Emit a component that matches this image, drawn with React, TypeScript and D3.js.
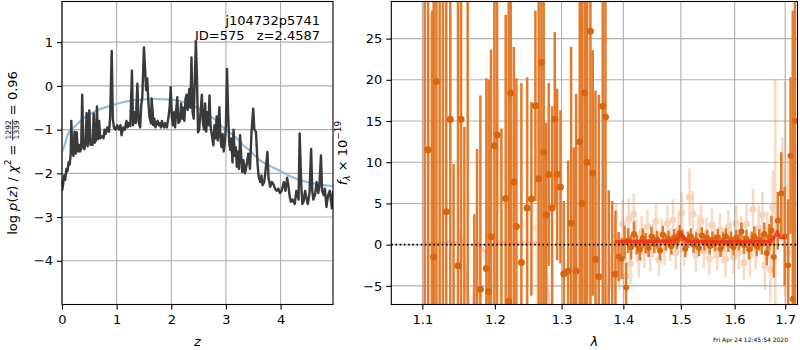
import React, { useRef, useEffect } from 'react';
import * as d3 from 'd3';

const FONT = 'DejaVu Sans, sans-serif';

// redshift grid and log p(z)
const pzZ = [0.00, 0.02, 0.04, 0.06, 0.08, 0.10, 0.12, 0.14, 0.16, 0.17, 0.19, 0.21, 0.23, 0.25, 0.27, 0.29, 0.31, 0.33, 0.35, 0.37,
  0.39, 0.41, 0.43, 0.45, 0.47, 0.50, 0.52, 0.54, 0.56, 0.58, 0.60, 0.62, 0.64, 0.66, 0.68, 0.70, 0.73, 0.76, 0.78, 0.80,
  0.83, 0.86, 0.88, 0.91, 0.93, 0.95, 0.98, 1.01, 1.04, 1.07, 1.09, 1.12, 1.15, 1.18, 1.20, 1.22, 1.25, 1.28, 1.30, 1.33,
  1.35, 1.38, 1.40, 1.43, 1.45, 1.47, 1.50, 1.52, 1.54, 1.56, 1.58, 1.60, 1.63, 1.64, 1.66, 1.67, 1.69, 1.71, 1.73, 1.75,
  1.77, 1.79, 1.81, 1.83, 1.85, 1.87, 1.89, 1.92, 1.95, 1.97, 1.99, 2.01, 2.03, 2.05, 2.07, 2.09, 2.11, 2.13, 2.16, 2.18,
  2.20, 2.22, 2.24, 2.26, 2.28, 2.30, 2.33, 2.35, 2.37, 2.39, 2.41, 2.43, 2.45, 2.47, 2.49, 2.51, 2.53, 2.56, 2.58, 2.60,
  2.62, 2.64, 2.66, 2.68, 2.70, 2.72, 2.74, 2.77, 2.79, 2.81, 2.83, 2.85, 2.88, 2.90, 2.92, 2.94, 2.96, 2.98, 3.00, 3.02,
  3.04, 3.06, 3.08, 3.10, 3.12, 3.14, 3.16, 3.18, 3.20, 3.22, 3.24, 3.26, 3.28, 3.30, 3.32, 3.35, 3.38, 3.41, 3.44, 3.47,
  3.50, 3.52, 3.55, 3.58, 3.60, 3.63, 3.65, 3.67, 3.70, 3.72, 3.76, 3.78, 3.81, 3.84, 3.87, 3.90, 3.93, 3.96, 3.99, 4.02,
  4.06, 4.09, 4.12, 4.14, 4.17, 4.19, 4.22, 4.26, 4.29, 4.33, 4.35, 4.38, 4.40, 4.42, 4.45, 4.47, 4.50, 4.53, 4.56, 4.58,
  4.60, 4.63, 4.66, 4.69, 4.71, 4.74, 4.76, 4.79, 4.81, 4.84, 4.87, 4.90, 4.92, 4.94, 4.96];
const pzLog = [-2.40, -2.25, -2.05, -2.15, -1.90, -1.95, -1.75, -1.80, -1.55, -0.80, -1.50, -1.60, -1.05, -1.55, -1.06, -1.50, -1.35, -1.50, -1.45, -0.20,
  -1.40, -1.45, -1.30, -0.62, -1.38, -0.56, -1.35, -1.30, -1.35, -0.63, -1.30, -1.25, -0.47, -1.22, -0.80, -1.20, -1.15, -1.20, -1.00, -1.10,
  -0.95, -1.05, -0.75, 0.80, -0.75, -0.95, -1.00, -0.90, -1.00, -0.90, -1.13, -0.95, -1.00, -0.80, -0.95, -0.85, -0.92, 0.35, -0.90, -0.60,
  -0.85, 0.05, -0.80, -0.95, -0.45, -0.25, 0.88, 0.40, -0.10, 0.17, -0.35, -0.70, -0.86, -0.29, -0.60, -0.90, -0.75, -0.95, -0.85, -0.80,
  -0.90, -0.85, -0.95, -0.80, -0.90, -0.95, -0.85, -0.95, -0.70, -0.50, -0.03, -0.70, -0.90, -0.60, -0.95, -0.55, -0.26, -0.85, -0.80, -0.40,
  -0.75, -0.50, -0.80, -0.30, -0.20, -0.55, -0.07, -0.50, 0.65, -0.60, -0.75, 0.10, 1.03, 0.20, -1.06, -1.00, -0.70, -0.20, -0.85, -1.00,
  -0.40, -1.05, -0.60, -0.90, -0.22, -0.95, -1.10, -1.36, -0.90, -1.20, -0.70, -1.25, -0.49, -1.20, -1.40, -1.10, -1.50, -1.30, -0.90, 0.39,
  -0.60, -1.30, -1.47, -1.20, -1.75, -1.00, -1.60, -1.40, -1.85, -1.50, -1.90, -1.13, -1.60, -1.97, -1.70, -2.00, -1.80, -1.55, -1.90, -1.02,
  -0.52, -1.00, -1.05, -1.80, -2.08, -2.20, -2.05, -2.27, -2.20, -2.00, -1.51, -2.10, -2.31, -2.20, -2.25, -2.35, -2.40, -2.35, -2.45, -2.40,
  -2.20, -2.40, -2.10, -2.25, -2.55, -2.65, -2.60, -2.70, -2.40, -2.60, -1.09, -2.30, -2.70, -2.65, -2.40, -2.55, -2.70, -2.45, -1.44, -2.40,
  -2.60, -2.50, -2.20, -2.45, -2.30, -1.59, -2.40, -2.50, -2.35, -2.77, -2.50, -2.40, -2.60, -2.80, -2.40];

// prior curve
const priorZ = [0, 0.02, 0.05, 0.1, 0.15, 0.2, 0.3, 0.4, 0.55, 0.7, 0.9, 1.1, 1.3, 1.5, 1.7, 1.9, 2.1, 2.3, 2.4, 2.5, 2.65, 2.8,
  2.9, 3.0, 3.2, 3.3, 3.45, 3.6, 3.8, 4.0, 4.2, 4.4, 4.6, 4.8, 4.96];
const priorLog = [-1.51, -1.45, -1.35, -1.13, -1.03, -0.97, -0.85, -0.74, -0.62, -0.53, -0.45, -0.38, -0.33, -0.31, -0.30, -0.31, -0.33, -0.40, -0.45, -0.52, -0.64, -0.77,
  -0.90, -1.00, -1.20, -1.34, -1.49, -1.68, -1.83, -1.95, -2.08, -2.17, -2.23, -2.27, -2.29];

const zTicks = [0, 1, 2, 3, 4];
const pzTicks = [-4, -3, -2, -1, 0, 1];
const waveTicks = [1.1, 1.2, 1.3, 1.4, 1.5, 1.6, 1.7];
const fluxTicks = [-5, 0, 5, 10, 15, 20, 25];

// G102 binned spectrum [wave, flux, err]
const g102 = [
  [1.1030, 35, 45], [1.1075, 11.5, 30], [1.1129, -12, 40.4], [1.1151, -1.5, 35], [1.1187, 19.8, 35], [1.1231, 40, 50],
  [1.1276, -15, 50], [1.1321, 4.0, 30], [1.1375, 15.2, 30], [1.1420, -10, 19.8], [1.1481, -2.55, 35], [1.1523, 15.2, 30],
  [1.1569, -9, 23.3], [1.1615, 30, 40], [1.1708, -11, 14.7], [1.1746, -9, 20.6], [1.1793, -5.4, 23.5], [1.1878, -2.9, 23.1],
  [1.1911, -5.7, 25.7], [1.1945, 0.97, 22.7], [1.1993, 12, 25], [1.2032, 13.3, 25], [1.2095, -9, 23.1], [1.2157, 5.6, 22.3],
  [1.2201, -6.9, 37], [1.2230, 18.4, 26], [1.2275, 7.6, 16.4], [1.2314, 2.2, 18], [1.2388, -2.15, 21.75], [1.2474, 4.45, 15.85],
  [1.2538, 5.55, 11.75], [1.2598, 16.85, 11.55], [1.2648, 8, 30], [1.2689, 22.1, 30], [1.2724, 11.2, 20], [1.2761, 3.6, 11.2],
  [1.2801, 8.5, 11.1], [1.2853, 4.45, 12.35], [1.2894, 15.2, 10.6], [1.2931, 8.5, 10.4], [1.2982, 7.0, 9.3], [1.3034, -3.55, 8.85],
  [1.3103, -3.2, 13.4], [1.3150, 2.6, 21.4], [1.3191, -9, 20.8], [1.3229, -3.2, 21.5], [1.3286, 12.5, 25], [1.3324, 5, 30],
  [1.3366, 18.4, 28], [1.3405, 10, 30], [1.3458, 25.9, 35], [1.3495, 8.7, 14.9], [1.3539, -1.8, 20.5], [1.3593, -3.9, 22.1],
  [1.3658, 16.8, 30], [1.3703, 15.5, 30], [1.3757, -9, 15.6], [1.3813, -9, 14.3], [1.3868, -3.6, 7.7],
];
const g102Faint = [
  [1.1100, 10, 18], [1.1780, -6.2, 6], [1.1880, -1.5, 6], [1.2050, 11.7, 8], [1.2250, 6.8, 7], [1.2620, 2, 14],
  [1.3300, 11.5, 16], [1.3570, -2, 10], [1.3680, 25, 15],
];

// G141 binned spectrum [wave, flux, err]
const g141 = [
  [1.392, -1.45, 3], [1.397, -1.7, 2.5], [1.402, 0.3, 2], [1.4046, -5.2, 3], [1.408, 0.5, 1.5], [1.413, -0.3, 1.5],
  [1.418, 1.3, 1.5], [1.423, 0.0, 1.2], [1.428, -0.6, 1.3], [1.433, 0.8, 1.2], [1.438, 0.2, 1.2], [1.443, -0.4, 1.1],
  [1.448, 1.0, 1.2], [1.453, 0.1, 1.1], [1.458, 0.6, 1.1], [1.463, -0.7, 1.2], [1.468, 1.2, 1.1], [1.473, 0.3, 1.0],
  [1.478, 0.7, 1.0], [1.483, -0.2, 1.0], [1.488, 0.9, 1.0], [1.493, 0.4, 1.0], [1.498, 1.4, 1.0], [1.503, 0.8, 1.0],
  [1.508, -0.5, 1.0], [1.513, 0.6, 1.0], [1.518, 1.0, 1.0], [1.523, 0.0, 1.0], [1.528, 0.5, 1.0], [1.533, -0.4, 1.0],
  [1.538, 1.1, 1.0], [1.543, 0.3, 1.0], [1.548, 0.8, 1.0], [1.553, -0.2, 1.0], [1.558, 0.6, 1.0], [1.563, 0.2, 1.0],
  [1.568, 0.9, 1.0], [1.573, -0.5, 1.0], [1.578, 0.5, 1.0], [1.583, 1.0, 1.0], [1.588, 0.1, 1.0], [1.593, 0.6, 1.0],
  [1.598, -0.3, 1.0], [1.603, 0.8, 1.0], [1.608, 0.3, 1.0], [1.613, 1.6, 1.1], [1.618, 0.0, 1.1], [1.623, 0.7, 1.1],
  [1.628, -0.6, 1.2], [1.633, 0.4, 1.2], [1.638, 1.0, 1.2], [1.643, -0.2, 1.2], [1.648, 0.6, 1.3], [1.653, 0.1, 1.3],
  [1.658, 1.3, 1.4], [1.663, -1.0, 1.5], [1.668, 0.9, 1.6], [1.672, 1.7, 1.8], [1.677, -1.5, 2.5], [1.685, 2.9, 3.5],
  [1.692, 6.2, 5], [1.699, 1.0, 6], [1.706, -2.5, 8], [1.711, 10.8, 9.5], [1.7155, -6.6, 35], [1.720, 15, 30],
];
const g141Faint = [
  [1.388, 1.0, 4.0], [1.393, -2.0, 3.5], [1.399, 2.5, 3.0], [1.404, -3.8, 3.0], [1.409, 3.1, 2.5], [1.412, -2.3, 2.5],
  [1.4176, 3.7, 2.5], [1.4215, 0.8, 2.2], [1.4262, -1.75, 2.2], [1.431, 1.5, 2.0], [1.436, -0.8, 2.0], [1.441, 2.2, 2.0],
  [1.446, -1.2, 2.0], [1.451, 0.5, 2.0], [1.456, 2.8, 2.2], [1.461, -1.8, 2.0], [1.466, 1.2, 2.0], [1.471, -0.5, 2.0],
  [1.476, 2.6, 2.2], [1.481, 0.0, 2.0], [1.486, 3.0, 2.5], [1.491, -1.0, 2.0], [1.496, 1.8, 2.2], [1.5014, 3.85, 2.5],
  [1.506, -0.6, 2.0], [1.5157, 5.75, 3.5], [1.5218, 3.7, 2.8], [1.527, -1.3, 2.0], [1.532, 1.6, 2.0], [1.537, 2.8, 2.2],
  [1.542, -0.8, 2.0], [1.547, 1.3, 2.0], [1.552, -1.7, 2.0], [1.557, 2.4, 2.0], [1.562, 0.3, 2.0], [1.567, -1.2, 2.0],
  [1.572, 1.8, 2.0], [1.577, -0.3, 2.0], [1.5827, -1.75, 2.2], [1.588, 2.2, 2.0], [1.593, 0.8, 2.0], [1.598, -1.5, 2.0],
  [1.603, 2.6, 2.2], [1.608, -1.0, 2.0], [1.6125, 1.5, 2.0], [1.6179, -2.15, 2.2], [1.623, 2.5, 2.5], [1.6295, -1.3, 2.5],
  [1.6356, 4.3, 2.5], [1.641, -0.5, 2.5], [1.647, 2.0, 2.8], [1.6542, 3.6, 2.8], [1.659, -2.5, 3.0], [1.664, 1.0, 3.0],
  [1.670, -3.0, 4.0], [1.675, 4.5, 4.5], [1.680, 2.0, 18], [1.6943, 6.6, 6.4], [1.700, 6.8, 13], [1.706, -1.0, 12],
];

// best-fit model
const model102 = [[1.10, 0.2], [1.148, 0.3], [1.1513, 1.7], [1.158, -3], [1.165, -9], [1.168, -9], [1.1745, 0.3],
  [1.1885, -1.1], [1.1955, -0.3], [1.203, 0.3], [1.272, 0.3], [1.283, -9], [1.372, -9], [1.381, -1], [1.386, 0.35]];
const model141 = [[1.386, 0.35], [1.45, 0.4], [1.488, 0.45], [1.494, 0.7], [1.500, 1.35], [1.506, 0.8], [1.512, 0.4],
  [1.56, 0.35], [1.62, 0.35], [1.67, 0.4], [1.676, 0.8], [1.684, 1.5], [1.690, 0.9], [1.700, 0.85]];

type Piece = { t?: string; italic?: boolean; size?: number; dy?: number; frac?: [string, string] };

const NB = '\u00a0';

const addLabel = (svg: any, x: number, y: number, pieces: Piece[]) => {
  const g = svg.append('g').attr('transform', `translate(${x},${y}) rotate(-90)`);
  const inner = g.append('g').attr('font-family', FONT).attr('fill', '#000');
  let cur = 0;
  pieces.forEach(p => {
    if (p.frac) {
      const fs = p.size || 7.5;
      const a = inner.append('text').attr('x', cur + 1).attr('y', -6.2).attr('font-size', fs).text(p.frac[0]);
      const b = inner.append('text').attr('x', cur + 1).attr('y', 1.8).attr('font-size', fs).text(p.frac[1]);
      const w = Math.max(a.node().getComputedTextLength(), b.node().getComputedTextLength()) + 2;
      inner.append('line').attr('x1', cur).attr('x2', cur + w).attr('y1', -4.4).attr('y2', -4.4)
        .attr('stroke', '#000').attr('stroke-width', 0.8);
      cur += w;
    } else {
      const t = inner.append('text').attr('x', cur).attr('y', p.dy || 0)
        .attr('font-size', p.size || 13).attr('font-style', p.italic ? 'italic' : 'normal')
        .text((p.t || '').replace(/ /g, NB));
      cur += t.node().getComputedTextLength();
    }
  });
  inner.attr('transform', `translate(${-cur / 2},0)`);
};

const createChart = (svg: d3.Selection<SVGSVGElement, unknown, null, undefined>): void => {
  svg.selectAll('*').remove();
  svg.append('rect').attr('width', 800).attr('height', 350).attr('fill', '#fff');

  const L = { x0: 62, x1: 333, y0: 1.5, y1: 304.5 };
  const R = { x0: 391.3, x1: 797.5, y0: 1.5, y1: 304.5 };

  const xL = d3.scaleLinear().domain([0, 4.96]).range([L.x0, L.x1]);
  const yL = d3.scaleLinear().domain([-5.0, 1.93]).range([L.y1, L.y0]);
  const xR = d3.scaleLog().domain([1.0598, 1.7253]).range([R.x0, R.x1]);
  const yR = d3.scaleLinear().domain([-7.26, 29.5]).range([R.y1, R.y0]);

  const defs = svg.append('defs');
  defs.append('clipPath').attr('id', 'clipL').append('rect')
    .attr('x', L.x0).attr('y', L.y0).attr('width', L.x1 - L.x0).attr('height', L.y1 - L.y0);
  defs.append('clipPath').attr('id', 'clipR').append('rect')
    .attr('x', R.x0).attr('y', R.y0).attr('width', R.x1 - R.x0).attr('height', R.y1 - R.y0);

  const grid = '#b0b0b0';

  // ---- left panel: p(z)
  const gl = svg.append('g');
  gl.selectAll(null).data(zTicks).enter().append('line')
    .attr('x1', d => xL(d)).attr('x2', d => xL(d)).attr('y1', L.y0).attr('y2', L.y1)
    .attr('stroke', grid).attr('stroke-width', 1.1);
  gl.selectAll(null).data(pzTicks).enter().append('line')
    .attr('x1', L.x0).attr('x2', L.x1).attr('y1', d => yL(d)).attr('y2', d => yL(d))
    .attr('stroke', grid).attr('stroke-width', 1.1);

  const plotL = gl.append('g').attr('clip-path', 'url(#clipL)');
  const pline = d3.line<number>().x((_, i) => xL(priorZ[i])).y(d => yL(d)).curve(d3.curveMonotoneX);
  plotL.append('path').attr('d', pline(priorLog)).attr('fill', 'none')
    .attr('stroke', '#7fb3da').attr('stroke-width', 2.2).attr('opacity', 0.85);
  const line = d3.line<number>().x((_, i) => xL(pzZ[i])).y(d => yL(d));
  plotL.append('path').attr('d', line(pzLog)).attr('fill', 'none')
    .attr('stroke', '#3a3a3a').attr('stroke-width', 2.4).attr('stroke-linejoin', 'round');

  const axL = gl.append('g').attr('transform', `translate(0,${L.y1})`)
    .call(d3.axisBottom(xL).tickValues(zTicks).tickFormat(d3.format('d')).tickSize(5).tickPadding(5.5));
  const ayL = gl.append('g').attr('transform', `translate(${L.x0},0)`)
    .call(d3.axisLeft(yL).tickValues(pzTicks).tickFormat(d3.format('d')).tickSize(5).tickPadding(4));

  // ---- right panel: spectrum
  const gr = svg.append('g');
  gr.selectAll(null).data(waveTicks).enter().append('line')
    .attr('x1', d => xR(d)).attr('x2', d => xR(d)).attr('y1', R.y0).attr('y2', R.y1)
    .attr('stroke', grid).attr('stroke-width', 1.1);
  gr.selectAll(null).data(fluxTicks).enter().append('line')
    .attr('x1', R.x0).attr('x2', R.x1).attr('y1', d => yR(d)).attr('y2', d => yR(d))
    .attr('stroke', grid).attr('stroke-width', 1.1);

  const plotR = gr.append('g').attr('clip-path', 'url(#clipR)');
  const orange = '#e37b2c';
  const dot = '#d9650c';
  const drawErr = (data: number[][], op: number, w: number, r: number) => {
    const g = plotR.append('g').attr('opacity', op);
    g.selectAll(null).data(data).enter().append('line')
      .attr('x1', d => xR(d[0])).attr('x2', d => xR(d[0]))
      .attr('y1', d => yR(d[1] - d[2])).attr('y2', d => yR(d[1] + d[2]))
      .attr('stroke', orange).attr('stroke-width', w);
    g.selectAll(null).data(data).enter().append('circle')
      .attr('cx', d => xR(d[0])).attr('cy', d => yR(d[1])).attr('r', r).attr('fill', dot);
  };
  drawErr(g102Faint, 0.22, 2.6, 3.5);
  drawErr(g141Faint, 0.28, 2.6, 3.5);

  const mline = d3.line<number[]>().x(d => xR(d[0])).y(d => yR(d[1]));
  plotR.append('path').attr('d', mline(model102)).attr('fill', 'none')
    .attr('stroke', '#ff8a7a').attr('stroke-width', 3).attr('opacity', 0.45);

  drawErr(g102, 1, 2.5, 3.5);
  drawErr(g141, 1, 2.5, 3);

  plotR.append('path').attr('d', mline(model141)).attr('fill', 'none')
    .attr('stroke', '#f0301a').attr('stroke-width', 3.5).attr('opacity', 0.85);
  plotR.append('line').attr('x1', R.x0).attr('x2', R.x1).attr('y1', yR(0)).attr('y2', yR(0))
    .attr('stroke', '#000').attr('stroke-width', 1.6).attr('stroke-dasharray', '1.6,2.6');

  const axR = gr.append('g').attr('transform', `translate(0,${R.y1})`)
    .call(d3.axisBottom(xR).tickValues(waveTicks).tickFormat(d3.format('.1f')).tickSize(5).tickPadding(5.5));
  const ayR = gr.append('g').attr('transform', `translate(${R.x0},0)`)
    .call(d3.axisLeft(yR).tickValues(fluxTicks).tickFormat(d3.format('d')).tickSize(5).tickPadding(4));

  [axL, ayL, axR, ayR].forEach(a => {
    a.select('.domain').remove();
    a.attr('font-size', 13).attr('font-family', FONT);
    a.selectAll('.tick line').attr('stroke', '#000').attr('stroke-width', 1.1);
    a.selectAll('text').attr('fill', '#000');
  });

  // frames
  [L, R].forEach(p => {
    svg.append('rect').attr('x', p.x0).attr('y', p.y0).attr('width', p.x1 - p.x0).attr('height', p.y1 - p.y0)
      .attr('fill', 'none').attr('stroke', '#000').attr('stroke-width', 1.1);
  });

  // annotations
  const txt = svg.append('g').attr('font-family', FONT).attr('fill', '#000');
  txt.append('text').attr('x', 320).attr('y', 25).attr('font-size', 13).attr('text-anchor', 'end').text('j104732p5741');
  txt.append('text').attr('x', 195).attr('y', 39.5).attr('font-size', 13).text('ID=575');
  txt.append('text').attr('x', 320).attr('y', 39.5).attr('font-size', 13).attr('text-anchor', 'end').text('z=2.4587');
  txt.append('text').attr('x', (L.x0 + L.x1) / 2).attr('y', 345.5).attr('font-size', 13).attr('font-style', 'italic')
    .attr('text-anchor', 'middle').text('z');
  txt.append('text').attr('x', (R.x0 + R.x1) / 2).attr('y', 345.5).attr('font-size', 13).attr('font-style', 'italic')
    .attr('text-anchor', 'middle').text('λ');
  txt.append('text').attr('x', 788).attr('y', 342).attr('font-size', 6).attr('text-anchor', 'end')
    .text('Fri Apr 24 12:45:54 2020');

  addLabel(svg, 17, 153, [
    { t: 'log ' }, { t: 'p', italic: true }, { t: '(' }, { t: 'z', italic: true }, { t: ') / ' },
    { t: 'χ', italic: true }, { t: '2', size: 9, dy: -6 }, { t: ' = ' }, { frac: ['1292', '1339'] }, { t: ' = 0.96' },
  ]);
  addLabel(svg, 347, 153, [
    { t: 'f', italic: true }, { t: 'λ', italic: true, size: 9, dy: 3 }, { t: ' × 10' }, { t: '\u221219', size: 9, dy: -6 },
  ]);
};

const App: React.FC = () => {
  const ref = useRef<SVGSVGElement>(null);
  useEffect(() => {
    if (ref.current) createChart(d3.select(ref.current));
  }, []);
  return (
    <svg ref={ref} width={800} height={350} style={{ position: 'absolute', left: 0, top: 0 }} />
  );
};

export default App;
